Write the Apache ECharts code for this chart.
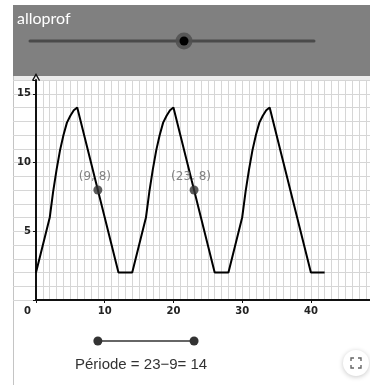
<!DOCTYPE html>
<html>
<head>
<meta charset="utf-8">
<script src="https://cdn.jsdelivr.net/npm/echarts@6/dist/echarts.min.js"></script>
<style>
  html, body { margin: 0; padding: 0; background: #fff; }
  #chart { width: 370px; height: 385px; }
</style>
</head>
<body>
<div id="chart"></div>
<script>
// curve, period 14
const curveX = [0, 1, 2, 2.5, 3, 3.5, 4, 4.5, 5, 5.5, 6, 7, 8, 9, 10, 11, 12, 14,
  15, 16, 16.5, 17, 17.5, 18, 18.5, 19, 19.5, 20, 21, 22, 23, 24, 25, 26, 28,
  29, 30, 30.5, 31, 31.5, 32, 32.5, 33, 33.5, 34, 35, 36, 37, 38, 39, 40, 42];
const curveY = [2, 4, 6, 7.9, 9.5, 10.9, 12, 12.9, 13.4, 13.8, 14, 12, 10, 8, 6, 4, 2, 2,
  4, 6, 7.9, 9.5, 10.9, 12, 12.9, 13.4, 13.8, 14, 12, 10, 8, 6, 4, 2, 2,
  4, 6, 7.9, 9.5, 10.9, 12, 12.9, 13.4, 13.8, 14, 12, 10, 8, 6, 4, 2, 2];
const pointX = [9, 23];
const pointY = [8, 8];
const xTicks = [0, 10, 20, 30, 40];
const yTicks = [5, 10, 15];
const periodText = "Période = 23\u22129= 14";

const X_MAX = 48.6;
const Y_MAX = 16;

const chart = echarts.init(document.getElementById("chart"), null, { renderer: "canvas" });

const gridColor = "#d6d6d6";

chart.setOption({
  animation: false,
  grid: [
    { left: 13, right: 0, top: 80, bottom: 85 },
    { left: 36, right: 0, top: 80, bottom: 85 },
    { left: 36, right: 0, top: 331, height: 20 },
  ],
  xAxis: [
    { gridIndex: 0, type: "value", min: 0, max: 1, show: false },
    {
      gridIndex: 1, type: "value", min: 0, max: X_MAX, interval: 1, position: "top",
      axisLine: { show: false }, axisTick: { show: false }, axisLabel: { show: false },
      splitLine: { show: true, lineStyle: { color: gridColor, width: 1 } },
    },
    {
      gridIndex: 1, type: "value", min: 0, max: X_MAX, interval: 10, position: "bottom",
      axisLine: { show: true, onZero: false, lineStyle: { color: "#111", width: 2 } },
      axisTick: { show: true, length: 3, lineStyle: { color: "#111" } },
      splitLine: { show: false },
      axisLabel: {
        color: "#222", fontSize: 10, fontWeight: "bold", fontFamily: "DejaVu Sans", margin: 6,
        showMaxLabel: false, alignMinLabel: "right",
        formatter: (v) => (xTicks.includes(v) ? (v === 0 ? "{o|0}" : String(v)) : ""),
        rich: { o: { fontSize: 10, fontWeight: "bold", color: "#222", padding: [0, 5, 0, 0] } },
      },
    },
    { gridIndex: 2, type: "value", min: 0, max: X_MAX, show: false },
  ],
  yAxis: [
    {
      gridIndex: 0, type: "value", min: 0, max: Y_MAX, interval: 1,
      axisLine: { show: false }, axisTick: { show: false }, axisLabel: { show: false },
      splitLine: { show: true, lineStyle: { color: gridColor, width: 1 } },
    },
    {
      gridIndex: 1, type: "value", min: 0, max: Y_MAX, interval: 5,
      axisLine: {
        show: true, onZero: false, lineStyle: { color: "#111", width: 2 },
        symbol: ["none", "path://M0,9 L5,0 L10,9 L8.6,9.8 L5,3.4 L1.4,9.8 Z"],
        symbolSize: [9, 8], symbolOffset: [0, 3],
      },
      axisTick: { show: true, length: 3, lineStyle: { color: "#111" } },
      splitLine: { show: false },
      axisLabel: {
        color: "#222", fontSize: 10, fontWeight: "bold", fontFamily: "DejaVu Sans", margin: 5,
        formatter: (v) => (yTicks.includes(v) ? String(v) : ""),
      },
    },
    { gridIndex: 2, type: "value", min: -1, max: 1, show: false },
  ],
  graphic: [
    { type: "rect", shape: { x: 13, y: 5, width: 357, height: 71 }, style: { fill: "#808080" }, silent: true },
    { type: "rect", shape: { x: 13, y: 76, width: 357, height: 4 }, style: { fill: "#ececec" }, silent: true },
    { type: "line", shape: { x1: 13.5, y1: 76, x2: 13.5, y2: 385 }, style: { stroke: "#c4c4c4", lineWidth: 1 }, silent: true },
    { type: "line", shape: { x1: 13, y1: 80.5, x2: 370, y2: 80.5 }, style: { stroke: "#cfcfcf", lineWidth: 1 }, silent: true },
    {
      type: "text", left: 17, top: 11, silent: true,
      style: { text: "alloprof", fill: "#ffffff", font: "16px Lato" },
    },
    { type: "line", shape: { x1: 30, y1: 41, x2: 314, y2: 41 }, style: { stroke: "#4a4a4a", lineWidth: 3, lineCap: "round" }, silent: true },
    { type: "circle", shape: { cx: 184, cy: 41, r: 8.5 }, style: { fill: "#505050", opacity: 0.85 }, silent: true },
    { type: "circle", shape: { cx: 184, cy: 41, r: 4.5 }, style: { fill: "#000" }, silent: true },
    {
      type: "text", left: 75, top: 357, silent: true,
      style: { text: periodText, fill: "#333", font: "15px 'Liberation Sans'" },
    },
    {
      type: "circle", shape: { cx: 356, cy: 363, r: 13 }, silent: true,
      style: { fill: "#fff", shadowBlur: 5, shadowColor: "rgba(0,0,0,0.22)", shadowOffsetY: 1 },
    },
    { type: "polyline", shape: { points: [[351, 361], [351, 358], [354, 358]] }, style: { stroke: "#666", lineWidth: 1.4, fill: null }, silent: true },
    { type: "polyline", shape: { points: [[358, 358], [361, 358], [361, 361]] }, style: { stroke: "#666", lineWidth: 1.4, fill: null }, silent: true },
    { type: "polyline", shape: { points: [[351, 365], [351, 368], [354, 368]] }, style: { stroke: "#666", lineWidth: 1.4, fill: null }, silent: true },
    { type: "polyline", shape: { points: [[358, 368], [361, 368], [361, 365]] }, style: { stroke: "#666", lineWidth: 1.4, fill: null }, silent: true },
  ],
  series: [
    {
      type: "line", xAxisIndex: 2, yAxisIndex: 1,
      data: curveX.map((x, i) => [x, curveY[i]]),
      showSymbol: false, smooth: false,
      lineStyle: { color: "#000", width: 2 },
      z: 3,
    },
    {
      type: "scatter", xAxisIndex: 2, yAxisIndex: 1,
      data: pointX.map((x, i) => [x, pointY[i]]),
      symbolSize: 9,
      itemStyle: { color: "#333" },
      label: {
        show: true, position: "top", distance: 3, offset: [-3, 0],
        color: "#666", fontSize: 12, fontFamily: "DejaVu Sans",
        formatter: (p) => "(" + p.value[0] + ", " + p.value[1] + ")",
      },
      z: 4,
    },
    {
      type: "line", xAxisIndex: 3, yAxisIndex: 2,
      data: pointX.map((x) => [x, 0]),
      symbol: "circle", symbolSize: 9, showSymbol: true,
      itemStyle: { color: "#333" },
      lineStyle: { color: "#333", width: 1.5 },
    },
  ],
});
</script>
</body>
</html>
